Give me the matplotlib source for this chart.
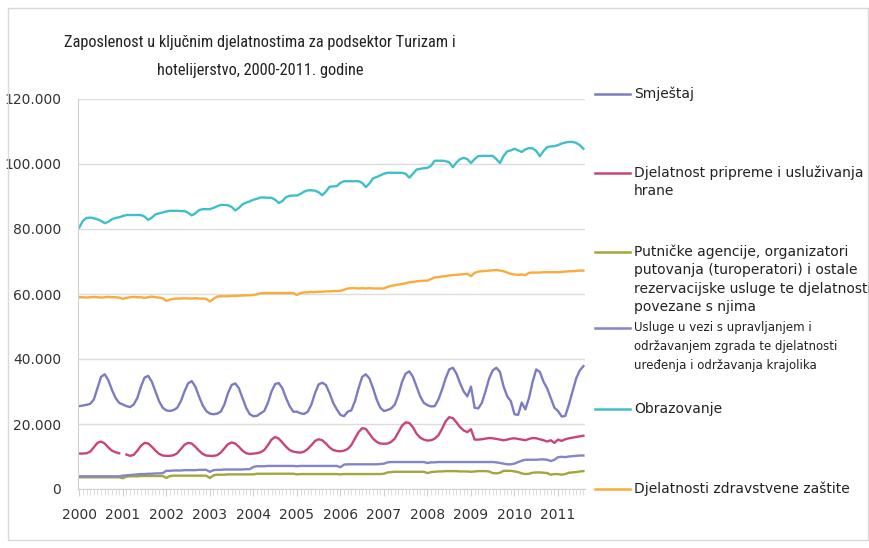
import numpy as np
import matplotlib
matplotlib.use("Agg")
import matplotlib.pyplot as plt
from matplotlib import font_manager as fm
from matplotlib.lines import Line2D
from matplotlib.patches import Rectangle
from matplotlib.ticker import FuncFormatter, MultipleLocator

# monthly values (thousands), Jan 2000 - Aug 2011
smjestaj = [
    25.5, 25.7, 25.9, 26.2, 27.5, 31.0, 34.5, 35.3, 33.5, 30.5, 28.0, 26.5,
    26.0, 25.5, 25.2, 26.0, 28.0, 31.5, 34.3, 34.8, 33.0, 30.0, 27.0, 25.0,
    24.2, 24.0, 24.3, 25.0, 27.0, 30.0, 32.5, 33.2, 31.5, 28.5, 25.8, 24.0,
    23.2, 23.0, 23.2, 23.8, 26.0, 29.5, 32.0, 32.5, 31.0, 28.0, 25.0, 23.0,
    22.4, 22.5, 23.3, 24.0, 26.5, 30.0, 32.3, 32.6, 31.0, 28.0, 25.5, 23.8,
    23.8, 23.3, 23.1, 23.8, 26.0, 29.5, 32.2, 32.7, 32.0, 29.5, 26.5, 24.5,
    22.8, 22.4, 23.8, 24.2, 27.0, 31.0, 34.5, 35.3, 34.0, 31.0, 27.5, 25.0,
    24.0, 24.3, 24.8, 26.0, 29.0, 33.0, 35.5, 36.2, 34.5, 31.5, 28.5, 26.5,
    25.8, 25.4, 25.5, 27.5, 30.5, 34.0, 36.8, 37.3, 35.5, 32.5, 30.0, 28.5,
    31.5, 25.0, 24.8, 26.5, 30.0, 34.0, 36.5, 37.3, 36.0, 31.5, 28.5, 27.0,
    23.0, 22.8, 26.6, 24.5, 28.0, 33.0, 36.8, 36.0, 33.0, 31.0, 28.0, 25.0,
    24.0, 22.3, 22.5, 26.0, 30.0, 34.0, 36.5, 37.8,
]
hrana = [
    10.9, 10.9, 11.0, 11.5, 12.8, 14.2, 14.6, 14.0, 12.8, 11.8, 11.3, 11.0,
    np.nan, 10.6, 10.2, 10.5, 11.8, 13.3, 14.2, 14.0, 13.0, 11.8, 10.8, 10.3,
    10.2, 10.2, 10.4, 11.0, 12.3, 13.6, 14.2, 14.0, 13.0, 11.8, 10.8, 10.3,
    10.2, 10.2, 10.4, 11.2, 12.5, 13.8, 14.3, 14.0, 13.0, 11.8, 11.0, 10.8,
    10.9, 11.0, 11.3, 12.0, 13.5, 15.2, 16.0, 15.5, 14.3, 13.0, 12.0, 11.5,
    11.3, 11.2, 11.5, 12.3, 13.5, 14.8, 15.3, 15.0, 14.0, 12.8, 12.0, 11.7,
    11.6, 11.8, 12.3, 13.5, 15.5, 17.5, 18.7, 18.5, 17.0, 15.5, 14.5, 14.0,
    13.9, 14.0, 14.5, 15.5, 17.5, 19.5, 20.5, 20.3, 19.0, 17.0, 15.8, 15.2,
    14.9, 15.0, 15.5, 16.5, 18.5, 20.8, 22.1, 21.8, 20.5, 19.0, 18.0, 17.5,
    18.4, 15.2, 15.2, 15.3, 15.5, 15.7, 15.6, 15.4, 15.2, 15.0, 15.2, 15.5,
    15.6, 15.4, 15.2, 15.0, 15.4, 15.7, 15.6, 15.3, 15.0, 14.6, 15.0, 14.2,
    15.2, 14.8, 15.3, 15.6, 15.8, 16.0, 16.2, 16.4,
]
putnicke = [
    3.6, 3.6, 3.6, 3.6, 3.6, 3.6, 3.6, 3.6, 3.6, 3.6, 3.6, 3.6,
    3.3, 3.8, 3.9, 3.9, 3.9, 4.0, 4.0, 4.0, 4.0, 4.0, 4.0, 4.0,
    3.4, 4.0, 4.1, 4.1, 4.1, 4.1, 4.1, 4.1, 4.1, 4.1, 4.1, 4.1,
    3.4, 4.2, 4.4, 4.4, 4.4, 4.5, 4.5, 4.5, 4.5, 4.5, 4.5, 4.5,
    4.5, 4.7, 4.7, 4.7, 4.7, 4.7, 4.7, 4.7, 4.7, 4.7, 4.7, 4.7,
    4.5, 4.6, 4.6, 4.6, 4.6, 4.6, 4.6, 4.6, 4.6, 4.6, 4.6, 4.6,
    4.5, 4.6, 4.6, 4.6, 4.6, 4.6, 4.6, 4.6, 4.6, 4.6, 4.6, 4.6,
    4.7, 5.1, 5.2, 5.3, 5.3, 5.3, 5.3, 5.3, 5.3, 5.3, 5.3, 5.3,
    4.9, 5.2, 5.3, 5.4, 5.4, 5.5, 5.5, 5.5, 5.5, 5.4, 5.4, 5.4,
    5.3, 5.4, 5.5, 5.5, 5.5, 5.4, 4.9, 4.8, 5.0, 5.6, 5.6, 5.6,
    5.4, 5.2, 4.8, 4.6, 4.7, 5.0, 5.1, 5.1, 5.0, 4.9, 4.4, 4.6,
    4.6, 4.4, 4.6, 5.0, 5.1, 5.2, 5.4, 5.5,
]
usluge = [
    3.9, 3.9, 3.9, 3.9, 3.9, 3.9, 3.9, 3.9, 3.9, 3.9, 3.9, 3.9,
    4.1, 4.2, 4.3, 4.4, 4.5, 4.6, 4.6, 4.7, 4.7, 4.8, 4.8, 4.9,
    5.6, 5.6, 5.7, 5.7, 5.7, 5.8, 5.8, 5.8, 5.8, 5.9, 5.9, 5.9,
    5.3, 5.8, 5.9, 5.9, 6.0, 6.0, 6.0, 6.0, 6.0, 6.0, 6.1, 6.1,
    6.8, 7.0, 7.0, 7.0, 7.1, 7.1, 7.1, 7.1, 7.1, 7.1, 7.1, 7.1,
    7.0, 7.1, 7.1, 7.1, 7.1, 7.1, 7.1, 7.1, 7.1, 7.1, 7.1, 7.1,
    6.7, 7.5, 7.6, 7.6, 7.6, 7.6, 7.6, 7.6, 7.6, 7.6, 7.6, 7.7,
    7.8, 8.2, 8.3, 8.3, 8.3, 8.3, 8.3, 8.3, 8.3, 8.3, 8.3, 8.3,
    8.0, 8.2, 8.2, 8.3, 8.3, 8.3, 8.3, 8.3, 8.3, 8.3, 8.3, 8.3,
    8.3, 8.3, 8.3, 8.3, 8.3, 8.3, 8.3, 8.2, 8.0, 7.8, 7.6, 7.6,
    7.8, 8.3, 8.7, 9.0, 9.0, 9.0, 9.0, 9.1, 9.1, 9.0, 8.6, 9.0,
    9.8, 9.9, 9.8, 10.0, 10.1, 10.2, 10.3, 10.3,
]
obrazovanje = [
    80.5, 82.5, 83.4, 83.5, 83.3, 83.0, 82.5, 81.8, 82.2, 83.0, 83.4, 83.6,
    84.0, 84.3, 84.3, 84.3, 84.3, 84.3, 83.8, 82.8, 83.5, 84.5, 84.8, 85.1,
    85.4, 85.6, 85.6, 85.6, 85.5, 85.5, 85.0, 84.2, 84.8, 85.8, 86.1, 86.1,
    86.1, 86.5, 87.0, 87.4, 87.4, 87.3, 86.8, 85.7, 86.5, 87.6, 88.1, 88.5,
    89.0, 89.3, 89.7, 89.7, 89.6, 89.6, 89.0, 88.0, 88.6, 89.8, 90.2, 90.3,
    90.3, 90.8, 91.5, 91.9, 91.9, 91.8, 91.3, 90.4, 91.5, 93.0, 93.1, 93.2,
    94.2, 94.7, 94.7, 94.7, 94.7, 94.7, 94.2, 92.9, 94.0, 95.6, 96.0, 96.5,
    97.0, 97.3, 97.3, 97.3, 97.3, 97.3, 97.0, 95.8, 97.0, 98.3, 98.5, 98.7,
    98.8, 99.5, 101.0, 101.0, 101.0, 100.9, 100.5, 99.0, 100.5, 101.5, 101.9, 101.5,
    100.3, 101.5, 102.4, 102.5, 102.5, 102.5, 102.5, 101.5, 100.3, 102.5, 103.9, 104.2,
    104.7, 104.2, 103.7, 104.5, 104.9, 104.8, 104.0, 102.4, 104.0, 105.2, 105.4, 105.5,
    105.8, 106.3, 106.6, 106.8, 106.8, 106.5, 105.8, 104.7,
]
zdravstvo = [
    59.0, 59.0, 58.9, 59.0, 59.1, 59.0, 58.9, 59.0, 59.1, 59.0, 59.0, 58.9,
    58.5, 58.8, 59.0, 59.1, 59.0, 59.0, 58.8, 59.0, 59.2, 59.0, 58.9, 58.7,
    57.9, 58.3, 58.5, 58.6, 58.6, 58.7, 58.6, 58.6, 58.7, 58.6, 58.6, 58.5,
    57.7, 58.5, 59.2, 59.3, 59.3, 59.3, 59.4, 59.4, 59.5, 59.5, 59.6, 59.6,
    59.7, 59.9, 60.2, 60.3, 60.3, 60.3, 60.3, 60.3, 60.3, 60.3, 60.3, 60.3,
    59.7, 60.3, 60.5, 60.5, 60.6, 60.6, 60.7, 60.7, 60.8, 60.8, 60.9, 60.9,
    61.0, 61.3, 61.7, 61.8, 61.8, 61.7, 61.8, 61.7, 61.8, 61.7, 61.7, 61.7,
    61.7, 62.2, 62.5, 62.7, 62.9, 63.1, 63.3, 63.6, 63.7, 63.9, 64.0, 64.1,
    64.1, 64.6, 65.1, 65.2, 65.4, 65.5, 65.7, 65.8, 65.9, 66.0, 66.1, 66.2,
    65.5, 66.5, 66.9, 67.0, 67.1, 67.2, 67.3, 67.4, 67.2, 67.0, 66.6, 66.2,
    66.0, 65.9, 66.0, 65.8, 66.5, 66.6, 66.6, 66.6, 66.7, 66.7, 66.7, 66.7,
    66.7, 66.8, 66.9, 67.0, 67.0, 67.1, 67.2, 67.2,
]

years = list(range(2000, 2012))
labels = [
    "Smještaj",
    "Djelatnost pripreme i usluživanja\nhrane",
    "Putničke agencije, organizatori\nputovanja (turoperatori) i ostale\nrezervacijske usluge te djelatnosti\npovezane s njima",
    "Usluge u vezi s upravljanjem i\nodržavanjem zgrada te djelatnosti\nuređenja i održavanja krajolika",
    "Obrazovanje",
    "Djelatnosti zdravstvene zaštite",
]
series = [smjestaj, hrana, putnicke, usluge, obrazovanje, zdravstvo]
colors = ["#7b7cc2", "#c8457c", "#a3a63a", "#8384c9", "#3ec0c8", "#f9ab3c"]


def pick_font(names):
    for n in names:
        try:
            fm.findfont(fm.FontProperties(family=n), fallback_to_default=False)
            return n
        except ValueError:
            pass
    return "DejaVu Sans"


title_font = pick_font(["Roboto Condensed", "Liberation Sans Narrow", "Lato"])

W, H = 870, 548
fig = plt.figure(figsize=(W / 100, H / 100), dpi=100)
fig.add_artist(Rectangle((8 / W, 8 / H), 860 / W, 532 / H, transform=fig.transFigure,
                         fill=False, edgecolor="#d9d9d9", linewidth=1))

ax = fig.add_axes([78 / W, 59 / H, 507 / W, 390 / H])
t = 2000 + np.arange(len(smjestaj)) / 12.0
# draw in the order so that the seasonal lines sit on top
for idx in [5, 4, 2, 3, 1, 0]:
    ax.plot(t, np.array(series[idx]) * 1000, color=colors[idx], linewidth=1.7,
            solid_joinstyle="round")

ax.set_ylim(0, 120000)
ax.set_xlim(1999.97, 2011.62)
ax.yaxis.set_major_locator(MultipleLocator(20000))
ax.yaxis.set_major_formatter(FuncFormatter(lambda v, p: "0" if v == 0 else f"{v:,.0f}".replace(",", ".")))
ax.set_xticks(years)
ax.set_xticklabels([str(y) for y in years])
ax.set_xticks(2000 + np.arange(0, 140) / 12.0, minor=True)
ax.grid(axis="y", color="#dcdcdc", linewidth=1)
ax.set_axisbelow(True)
for s in ["top", "right"]:
    ax.spines[s].set_visible(False)
for s in ["left", "bottom"]:
    ax.spines[s].set_color("#d0d0d0")
ax.tick_params(axis="y", length=0, labelsize=10, labelcolor="#333333", pad=12)
ax.tick_params(axis="x", which="major", length=5, color="#d0d0d0", labelsize=10,
               labelcolor="#333333", pad=9)
ax.tick_params(axis="x", which="minor", length=4, color="#d8d8d8")

fig.text(260 / W, 1 - 43 / H, "Zaposlenost u ključnim djelatnostima za podsektor Turizam i",
         ha="center", va="center", fontsize=11.8, family=title_font, color="#222222")
fig.text(260 / W, 1 - 70 / H, "hotelijerstvo, 2000-2011. godine",
         ha="center", va="center", fontsize=11.8, family=title_font, color="#222222")

# legend entries placed down the right side
leg_y = [94, 173, 252, 328, 409, 489]
leg_size = [10, 10, 10, 8.5, 10, 10]
leg_space = [1.4, 1.4, 1.4, 1.65, 1.4, 1.4]
for lab, col, y, fs, ls in zip(labels, colors, leg_y, leg_size, leg_space):
    fig.add_artist(Line2D([595 / W, 630 / W], [1 - y / H, 1 - y / H], color=col,
                          linewidth=1.8, transform=fig.transFigure))
    fig.text(634 / W, 1 - (y - 7.5) / H, lab, ha="left", va="top", fontsize=fs,
             color="#222222", linespacing=ls)

fig.savefig("out.png", dpi=100)
